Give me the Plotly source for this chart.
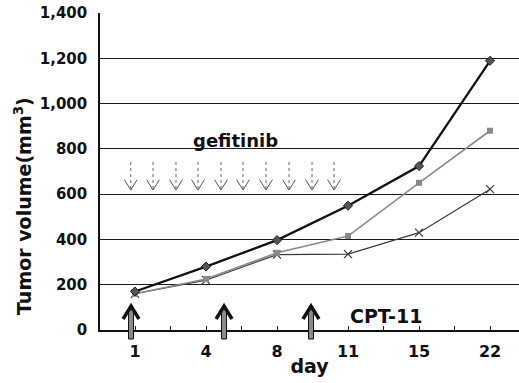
import plotly.graph_objects as go

# ---- data ----
days = ["1", "4", "8", "11", "15", "22"]
day_index = [0, 1, 2, 3, 4, 5]
control = [170, 280, 397, 549, 724, 1189]
single = [160, 225, 341, 415, 650, 880]
combo = [160, 220, 333, 335, 430, 622]
y_ticks = [0, 200, 400, 600, 800, 1000, 1200, 1400]
y_ticktext = ["0", "200", "400", "600", "800", "1,000", "1,200", "1,400"]
# dosing schedule positions (axis units)
gefitinib_x = [-0.06, 0.254, 0.577, 0.887, 1.211, 1.521, 1.845, 2.169, 2.493, 2.803]
gef_top, gef_tip = 742, 618
cpt_x = [-0.056, 1.254, 2.479]

FONT = "DejaVu Sans"
W, H = 519, 383
ML, MR, MT, MB = 100, 0, 13, 53
XR = [-0.493, 5.408]
YR = [0, 1400]

fig = go.Figure()

fig.add_trace(go.Scatter(x=day_index, y=combo, mode="lines+markers",
                         line=dict(color="#3a3a3a", width=1.2),
                         marker=dict(symbol="x-thin", size=8, color="#3a3a3a",
                                     line=dict(width=1.2, color="#3a3a3a")),
                         showlegend=False))
fig.add_trace(go.Scatter(x=day_index, y=single, mode="lines+markers",
                         line=dict(color="#8a8a8a", width=1.6),
                         marker=dict(symbol="square", size=6, color="#8a8a8a"),
                         showlegend=False))
fig.add_trace(go.Scatter(x=day_index, y=control, mode="lines+markers",
                         line=dict(color="#111111", width=2.3),
                         marker=dict(symbol="diamond", size=7, color="#555555",
                                     line=dict(width=1, color="#222222")),
                         showlegend=False))

# gefitinib arrows (dotted shafts + open heads)
dx, dy = 0.09, 46
sx, sy, hx, hy = [], [], [], []
for p in gefitinib_x:
    sx += [p, p, None]
    sy += [gef_top, gef_tip, None]
    hx += [p - dx, p, p + dx, None]
    hy += [gef_tip + dy, gef_tip, gef_tip + dy, None]
fig.add_trace(go.Scatter(x=sx, y=sy, mode="lines",
                         line=dict(color="#666666", width=1, dash="dot"),
                         showlegend=False, hoverinfo="skip"))
fig.add_trace(go.Scatter(x=hx, y=hy, mode="lines",
                         line=dict(color="#555555", width=1),
                         showlegend=False, hoverinfo="skip"))

# CPT-11 arrows drawn in paper space (they reach below the x axis)
pw = W - ML - MR
ph = H - MT - MB


def px_to_paper_x(px):
    return (px - ML) / pw


def px_to_paper_y(py):
    return (H - MB - py) / ph


def idx_to_px(v):
    return ML + (v - XR[0]) / (XR[1] - XR[0]) * pw


shapes = []
for p in cpt_x:
    cx = idx_to_px(p)
    shapes.append(dict(type="rect", xref="paper", yref="paper",
                       x0=px_to_paper_x(cx - 2.5), x1=px_to_paper_x(cx + 2.5),
                       y0=px_to_paper_y(339), y1=px_to_paper_y(309),
                       fillcolor="#8a8a8a", line=dict(color="#111", width=1)))
    path = "M {:.4f} {:.4f} L {:.4f} {:.4f} L {:.4f} {:.4f}".format(
        px_to_paper_x(cx - 8), px_to_paper_y(319),
        px_to_paper_x(cx), px_to_paper_y(306),
        px_to_paper_x(cx + 8), px_to_paper_y(319))
    shapes.append(dict(type="path", xref="paper", yref="paper", path=path,
                       line=dict(color="#111", width=3.5)))

annotations = [
    dict(x=1.41, y=835, xref="x", yref="y", text="gefitinib", showarrow=False,
         font=dict(family=FONT, size=18, color="#111", weight="bold")),
    dict(x=3.535, y=62, xref="x", yref="y", text="CPT-11", showarrow=False,
         font=dict(family=FONT, size=19, color="#111", weight="bold")),
    dict(x=px_to_paper_x(23), y=px_to_paper_y(206), xref="paper", yref="paper",
         xanchor="center", yanchor="middle",
         text="Tumor volume(mm<sup>3</sup>)", textangle=-90, showarrow=False,
         font=dict(family=FONT, size=19, color="#111", weight="bold")),
]

fig.update_layout(
    width=W, height=H,
    margin=dict(l=ML, r=MR, t=MT, b=MB),
    paper_bgcolor="white", plot_bgcolor="white",
    annotations=annotations, shapes=shapes,
    xaxis=dict(range=XR, tickvals=day_index, ticktext=days,
               ticks="inside", ticklen=4, tickcolor="#222", showgrid=False,
               zeroline=False, showline=True, linecolor="#111", linewidth=1.5,
               minor=dict(dtick=0.5, tick0=0, ticks="inside", ticklen=4, tickcolor="#222"),
               ticklabelstandoff=6,
               title=dict(text="day", standoff=0,
                          font=dict(family=FONT, size=19, color="#111", weight="bold")),
               tickfont=dict(family=FONT, size=16, color="#111", weight="bold")),
    yaxis=dict(range=YR, tickvals=y_ticks, ticktext=y_ticktext,
               ticks="", showgrid=True, gridcolor="#1a1a1a", gridwidth=1.3,
               zeroline=False, showline=True, linecolor="#111", linewidth=1.5,
               ticklabelstandoff=8,
               tickfont=dict(family=FONT, size=15, color="#111", weight="bold")),
)

fig.write_html("out.html")
